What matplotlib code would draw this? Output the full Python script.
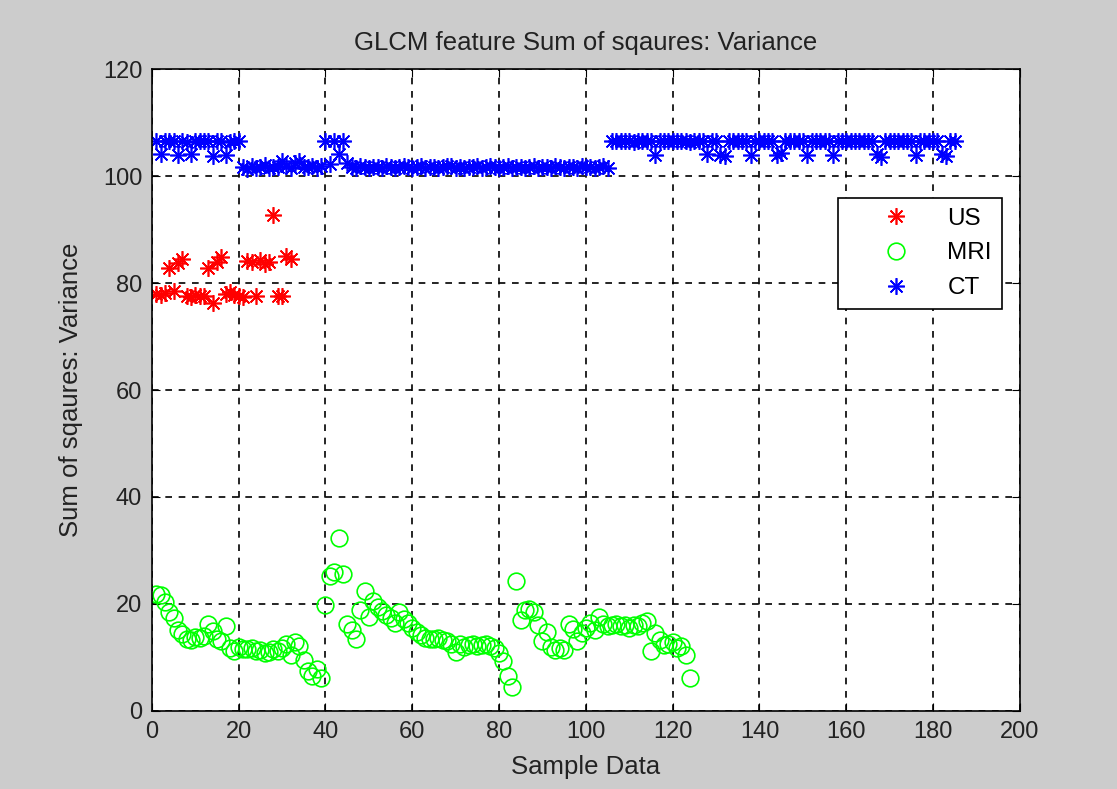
import numpy as np
import matplotlib.pyplot as plt

# values (sample index starts at 1)
us = [78.0, 77.8, 78.2, 82.8, 78.6, 83.8, 84.4, 77.6, 77.4, 77.8,
      77.6, 77.5, 82.9, 76.3, 83.9, 84.9, 78.0, 78.3, 77.8, 77.5,
      77.4, 84.2, 83.9, 77.6, 84.3, 83.5, 84.0, 92.8, 77.5, 77.6,
      85.0, 84.4]

mri = [21.8, 21.7, 20.3, 18.5, 17.3, 15.2, 14.3, 13.5, 13.2, 13.8,
       13.6, 14.0, 16.2, 15.0, 13.5, 13.0, 15.8, 11.8, 11.3, 12.0,
       11.6, 11.5, 11.8, 11.2, 11.4, 10.8, 11.0, 11.5, 11.2, 11.8,
       12.6, 10.5, 12.9, 12.2, 9.6, 7.4, 6.5, 7.8, 6.2, 19.8,
       25.2, 26.0, 32.3, 25.6, 16.2, 15.2, 13.4, 18.8, 22.4, 17.5,
       20.6, 19.4, 18.6, 18.0, 17.3, 16.5, 18.5, 17.2, 16.5, 15.6,
       14.8, 14.2, 13.6, 13.5, 13.4, 13.6, 13.3, 13.0, 12.6, 11.0,
       12.6, 12.0, 12.3, 12.5, 12.1, 12.4, 12.6, 12.2, 11.8, 10.9,
       9.3, 6.6, 4.4, 24.3, 17.0, 18.8, 19.0, 18.5, 16.0, 13.0,
       14.8, 12.0, 11.4, 11.8, 11.4, 16.2, 15.3, 13.0, 14.6, 15.6,
       16.5, 15.1, 17.5, 16.2, 15.8, 16.0, 16.3, 15.8, 16.1, 15.5,
       16.0, 15.8, 16.5, 16.8, 11.3, 14.6, 13.3, 12.4, 12.6, 12.9,
       11.8, 12.2, 10.5, 6.1]

ct = [106.5, 104.1, 106.5, 106.6, 106.5, 104.0, 106.5, 106.4, 104.2, 106.5,
      106.6, 106.5, 106.5, 103.8, 106.5, 106.5, 104.0, 106.4, 106.5, 106.5,
      101.6, 101.4, 101.8, 101.5, 101.6, 102.0, 101.5, 101.7, 101.6, 102.8,
      101.8, 101.5, 102.4, 102.8, 101.7, 101.6, 101.9, 101.5, 101.8, 106.5,
      102.3, 106.6, 104.2, 106.5, 102.5, 101.6, 101.5, 101.8, 101.6, 101.5,
      101.7, 101.6, 101.5, 101.8, 101.6, 101.5, 101.7, 101.9, 101.6, 101.5,
      101.6, 101.8, 101.5, 101.6, 101.7, 101.5, 101.6, 101.8, 101.9, 101.5,
      101.6, 101.5, 101.7, 101.6, 101.8, 101.5, 101.6, 101.9, 101.7, 101.5,
      101.6, 101.8, 101.5, 101.6, 101.7, 101.5, 101.6, 101.8, 101.5, 101.7,
      101.6, 101.5, 101.8, 101.6, 101.5, 101.7, 101.6, 101.5, 101.8, 101.6,
      101.7, 101.5, 101.6, 101.8, 101.5, 106.5, 106.5, 106.6, 106.5, 106.5,
      106.4, 106.5, 106.5, 106.6, 106.5, 104.0, 106.5, 106.5, 106.5, 106.6,
      106.5, 106.5, 106.5, 106.4, 106.5, 106.5, 106.5, 104.2, 106.5, 106.5,
      104.0, 103.8, 106.5, 106.5, 106.6, 106.5, 106.5, 104.0, 106.5, 106.5,
      106.5, 106.5, 106.5, 103.9, 104.3, 106.5, 106.6, 106.5, 106.5, 106.5,
      104.0, 106.5, 106.5, 106.5, 106.6, 106.5, 104.0, 106.5, 106.5, 106.5,
      106.5, 106.6, 106.5, 106.5, 106.5, 106.5, 104.2, 103.6, 106.5, 106.5,
      106.5, 106.6, 106.5, 106.5, 106.5, 104.0, 106.5, 106.5, 106.5, 106.5,
      106.6, 104.1, 103.8, 106.5, 106.5]

plt.rcParams['font.family'] = ['Liberation Sans', 'DejaVu Sans']

fig = plt.figure(figsize=(11.17, 7.89), dpi=100, facecolor='#cccccc')
ax = fig.add_axes([0.136, 0.0989, 0.777, 0.8136])

star = (8, 2, 0)
ax.plot(np.arange(1, len(us) + 1), us, linestyle='none', marker=star,
        color='red', markersize=12, markeredgewidth=1.2, label='US')
ax.plot(np.arange(1, len(mri) + 1), mri, linestyle='none', marker='o',
        markerfacecolor='none', markeredgecolor='#00ff00', markersize=12,
        markeredgewidth=1.2, label='MRI')
ax.plot(np.arange(1, len(ct) + 1), ct, linestyle='none', marker=star,
        color='blue', markersize=12, markeredgewidth=1.2, label='CT')

ax.set_xlim(0, 200)
ax.set_ylim(0, 120)
ax.set_xticks(np.arange(0, 201, 20))
ax.set_yticks(np.arange(0, 121, 20))
ax.grid(True, color='black', linestyle=(0, (4, 4)), linewidth=1.2)
ax.tick_params(direction='in', labelsize=17, top=True, right=True,
               length=6, pad=7, labelcolor='#222222')
for s in ax.spines.values():
    s.set_linewidth(1.2)

ax.set_title('GLCM feature Sum of sqaures: Variance', fontsize=18.5, pad=14,
             color='#222222')
ax.set_xlabel('Sample Data', fontsize=18.5, labelpad=9, color='#222222')
ax.set_ylabel('Sum of sqaures: Variance', fontsize=18.5, labelpad=14,
              color='#222222')

leg = ax.legend(loc='upper right', bbox_to_anchor=(0.979, 0.799), fontsize=17.5,
                fancybox=False, edgecolor='black', framealpha=1,
                handlelength=4.0, handletextpad=0.1, borderpad=0.4,
                labelspacing=0.52, borderaxespad=0)
leg.get_frame().set_linewidth(1.2)

plt.savefig('out.png', dpi=100, facecolor=fig.get_facecolor())
